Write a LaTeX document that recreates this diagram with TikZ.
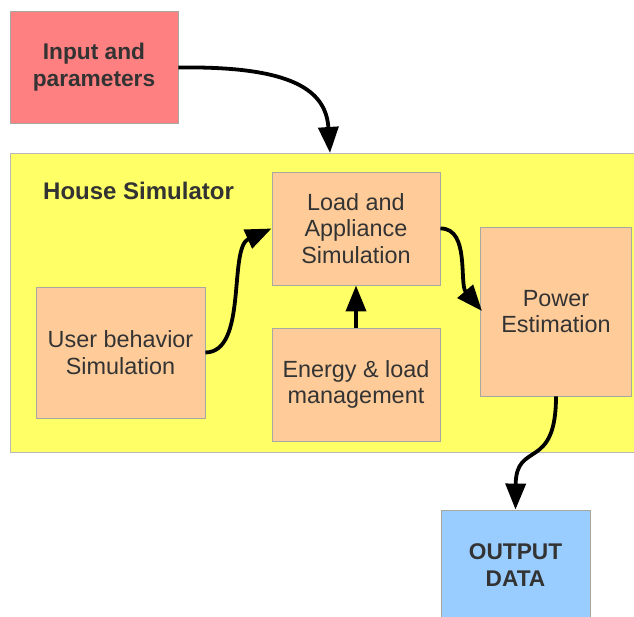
\documentclass[tikz,border=0pt]{standalone}
\usepackage{fontspec}
\setmainfont{Liberation Sans}
\usetikzlibrary{arrows.meta}
\definecolor{inred}{HTML}{FF8080}
\definecolor{hyellow}{HTML}{FFFF66}
\definecolor{borange}{HTML}{FFCC99}
\definecolor{oblue}{HTML}{99CCFF}
\definecolor{txt}{HTML}{333333}
\definecolor{bgray}{HTML}{A8A8A0}
\begin{document}
\begin{tikzpicture}[x=1pt,y=-1pt,
  box/.style={draw=bgray, line width=0.9pt, inner sep=0pt, align=center, text=txt,
    font=\fontsize{23.4}{26.3}\selectfont},
  bbox/.style={box, font=\bfseries\fontsize{22.7}{27}\selectfont},
  conn/.style={line width=3.8pt, -{Triangle[length=26pt,width=20pt]}}]
\useasboundingbox (0,0) rectangle (634,617);
\fill[white] (0,0) rectangle (634,617);
% house simulator container
\node[box, fill=hyellow, draw=gray!55, minimum width=640pt, minimum height=299pt] (house) at (330,302.5) {};
\node[anchor=west, inner sep=0pt, text=txt, font=\bfseries\fontsize{24}{28}\selectfont] (htitle) at (43,191) {House Simulator};
% boxes
\node[bbox, fill=inred, minimum width=168pt, minimum height=112pt] (inp) at (94,67.5) {Input and\\parameters};
\node[box, fill=borange, minimum width=168pt, minimum height=113pt] (load) at (356,228.5) {Load and\\Appliance\\Simulation};
\node[box, fill=borange, minimum width=151pt, minimum height=169pt] (pow) at (556,311.5) {Power\\Estimation};
\node[box, fill=borange, minimum width=169pt, minimum height=131pt] (usr) at (120.5,352.5) {User behavior\\Simulation};
\node[box, fill=borange, minimum width=168pt, minimum height=113pt] (en) at (356,384.5) {Energy \& load\\management};
\node[bbox, fill=oblue, minimum width=149pt, minimum height=110pt] (out) at (515.5,565) {OUTPUT\\DATA};
% connector end points
\coordinate (h1) at (330,153);
\coordinate (pw) at (482,311);
% connectors
\draw[conn] (inp.east) .. controls (292,66) and (326,90) .. (h1);
\draw[conn] (usr.east) .. controls (248,352) and (228,248) .. (load.west);
\draw[conn] (en.north) -- (load.south);
\draw[conn] (load.east) .. controls (470,228) and (459,284) .. (pw);
\draw[conn] (pow.south) .. controls (556,472) and (516,440) .. (out.north);
\end{tikzpicture}
\end{document}
